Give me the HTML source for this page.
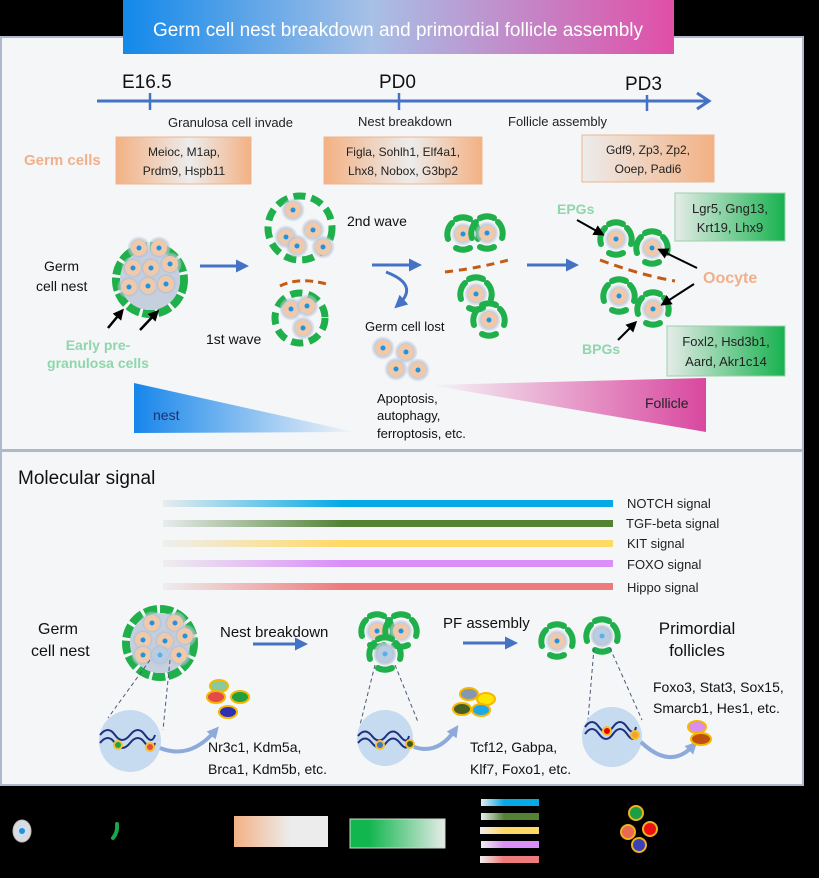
<!DOCTYPE html>
<html><head><meta charset="utf-8"><style>
body{margin:0;background:#000;width:819px;height:873px;overflow:hidden}
text{font-family:"Liberation Sans",sans-serif}
</style></head><body>
<svg width="819" height="873" viewBox="0 0 819 873" xmlns="http://www.w3.org/2000/svg">
<defs>
<radialGradient id="halo"><stop offset="0.6" stop-color="#a9b7cc"/><stop offset="1" stop-color="#c9d2e0" stop-opacity="0.3"/></radialGradient>
<g id="c"><circle r="11.5" fill="url(#halo)"/><circle r="8" fill="#f0c9ab"/><circle r="2.5" fill="#1c94e4"/></g>
<g id="cb"><circle r="11.5" fill="url(#halo)"/><circle r="8" fill="#b9cde2"/><circle r="2.5" fill="#5ab0e8"/></g>
<g id="f"><use href="#c"/><g fill="none" stroke="#20b04b" stroke-width="6" stroke-linecap="round"><path d="M-7,-15 A16,16 0 0 1 7,-15"/><path d="M11,-11 A16,16 0 0 1 15,5"/><path d="M7,14 A16,16 0 0 1 -7,14"/><path d="M-15,5 A16,16 0 0 1 -11,-11"/></g></g>
<linearGradient id="title" x1="0" x2="1"><stop offset="0" stop-color="#1289ea"/><stop offset="0.45" stop-color="#a7c0e6"/><stop offset="1" stop-color="#e04fa8"/></linearGradient>
<linearGradient id="peach" x1="0" x2="1"><stop offset="0" stop-color="#f3b184"/><stop offset="0.55" stop-color="#ececec"/><stop offset="1" stop-color="#f3b184"/></linearGradient>
<linearGradient id="peach2" x1="0" x2="1"><stop offset="0" stop-color="#ececec"/><stop offset="1" stop-color="#f3b184"/></linearGradient>
<linearGradient id="peachL" x1="0" x2="1"><stop offset="0" stop-color="#f3b184"/><stop offset="0.6" stop-color="#ececec"/></linearGradient>
<linearGradient id="green" x1="0" x2="1"><stop offset="0" stop-color="#e6ece8"/><stop offset="1" stop-color="#17b24f"/></linearGradient>
<linearGradient id="greenL" x1="0" x2="1"><stop offset="0.2" stop-color="#12b64f"/><stop offset="1" stop-color="#e6ece8"/></linearGradient>
<linearGradient id="nest" x1="0" x2="1"><stop offset="0" stop-color="#1686ea"/><stop offset="1" stop-color="#f5f6f8"/></linearGradient>
<linearGradient id="foll" x1="0" x2="1"><stop offset="0" stop-color="#f5f6f8"/><stop offset="1" stop-color="#d9489f"/></linearGradient>
<linearGradient id="g1" x1="0" x2="1"><stop offset="0" stop-color="#e8ecee"/><stop offset="0.4" stop-color="#05a9e6"/></linearGradient>
<linearGradient id="g2" x1="0" x2="1"><stop offset="0" stop-color="#e8ecee"/><stop offset="0.4" stop-color="#548235"/></linearGradient>
<linearGradient id="g3" x1="0" x2="1"><stop offset="0" stop-color="#eeeeee"/><stop offset="0.4" stop-color="#ffd966"/></linearGradient>
<linearGradient id="g4" x1="0" x2="1"><stop offset="0" stop-color="#eeeeee"/><stop offset="0.4" stop-color="#d98ef8"/></linearGradient>
<linearGradient id="g5" x1="0" x2="1"><stop offset="0" stop-color="#eeeeee"/><stop offset="0.4" stop-color="#ee7b7b"/></linearGradient>
<marker id="ab" markerWidth="13" markerHeight="13" refX="8" refY="6.5" orient="auto" markerUnits="userSpaceOnUse"><path d="M0,0 L13,6.5 L0,13z" fill="#4472c4"/></marker>
<marker id="ak" markerWidth="11" markerHeight="11" refX="8" refY="5.5" orient="auto" markerUnits="userSpaceOnUse"><path d="M0,0 L11,5.5 L0,11z" fill="#000"/></marker>
<marker id="al" markerWidth="12" markerHeight="12" refX="6" refY="6" orient="auto" markerUnits="userSpaceOnUse"><path d="M0,0 L12,6 L0,12z" fill="#8eaadb"/></marker>
</defs>
<rect width="819" height="873" fill="#000"/>
<rect x="1" y="37" width="802" height="413" fill="#f5f6f8" stroke="#aeb9cc" stroke-width="2"/>
<rect x="1" y="451" width="802" height="334" fill="#f5f6f8" stroke="#aeb9cc" stroke-width="2"/>
<rect x="123" y="0" width="551" height="54" fill="url(#title)"/>
<text x="398" y="36" font-size="19" fill="#fff" text-anchor="middle">Germ cell nest breakdown and primordial follicle assembly</text>
<line x1="97" y1="101" x2="708" y2="101" stroke="#4472c4" stroke-width="3"/>
<path d="M697,93 L709,101 L697,109" fill="none" stroke="#4472c4" stroke-width="3"/>
<g stroke="#4472c4" stroke-width="2.5"><line x1="150" y1="93" x2="150" y2="110"/><line x1="399" y1="93" x2="399" y2="110"/><line x1="647" y1="95" x2="647" y2="111"/></g>
<g font-size="19" fill="#111"><text x="122" y="88">E16.5</text><text x="379" y="88">PD0</text><text x="625" y="90">PD3</text></g>
<g font-size="13" fill="#222"><text x="168" y="127">Granulosa cell invade</text><text x="358" y="126">Nest breakdown</text><text x="508" y="126">Follicle assembly</text></g>
<rect x="116" y="137" width="135" height="47" fill="url(#peach)" stroke="#f0b48c"/>
<rect x="324" y="137" width="158" height="47" fill="url(#peach)" stroke="#f0b48c"/>
<rect x="582" y="135" width="132" height="47" fill="url(#peach2)" stroke="#f0b48c"/>
<g font-size="12" fill="#222" text-anchor="middle">
<text x="184" y="156">Meioc, M1ap,</text><text x="184" y="175">Prdm9, Hspb11</text>
<text x="403" y="156">Figla, Sohlh1, Elf4a1,</text><text x="403" y="175">Lhx8, Nobox, G3bp2</text>
<text x="648" y="154">Gdf9, Zp3, Zp2,</text><text x="648" y="173">Ooep, Padi6</text></g>
<text x="24" y="165" font-size="15" font-weight="bold" fill="#f2b08a">Germ cells</text>
<rect x="675" y="193" width="110" height="48" fill="url(#green)" stroke="#9ad0a8"/>
<rect x="667" y="326" width="118" height="50" fill="url(#green)" stroke="#9ad0a8"/>
<g font-size="13" fill="#222" text-anchor="middle"><text x="730" y="213">Lgr5, Gng13,</text><text x="730" y="232">Krt19, Lhx9</text><text x="726" y="346">Foxl2, Hsd3b1,</text><text x="726" y="366">Aard, Akr1c14</text></g>
<circle cx="150" cy="280" r="34" fill="none" stroke="#20b04b" stroke-width="8" stroke-dasharray="13 3"/>
<circle cx="150" cy="280" r="30" fill="#c5cfde"/>
<use href="#c" x="139" y="248"/><use href="#c" x="159" y="248"/><use href="#c" x="133" y="268"/><use href="#c" x="151" y="268"/><use href="#c" x="170" y="264"/><use href="#c" x="129" y="287"/><use href="#c" x="148" y="286"/><use href="#c" x="166" y="284"/>
<g font-size="14" fill="#111"><text x="44" y="271">Germ</text><text x="36" y="291">cell nest</text></g>
<line x1="108" y1="328" x2="122" y2="311" stroke="#000" stroke-width="2.5" marker-end="url(#ak)"/>
<line x1="140" y1="330" x2="157" y2="312" stroke="#000" stroke-width="2.5" marker-end="url(#ak)"/>
<g font-size="14" font-weight="bold" fill="#8fd6aa" text-anchor="middle"><text x="98" y="350">Early pre-</text><text x="98" y="368">granulosa cells</text></g>
<line x1="200" y1="266" x2="244" y2="266" stroke="#4472c4" stroke-width="3" marker-end="url(#ab)"/>
<g fill="none" stroke="#20b04b" stroke-width="7" stroke-dasharray="12 6"><circle cx="300" cy="228" r="32"/><circle cx="300" cy="318" r="25"/></g>
<use href="#c" x="293" y="210"/><use href="#c" x="286" y="237"/><use href="#c" x="313" y="230"/><use href="#c" x="297" y="246"/><use href="#c" x="323" y="247"/>
<use href="#c" x="291" y="309"/><use href="#c" x="307" y="306"/><use href="#c" x="303" y="328"/>
<path d="M280,286 Q300,276 330,285" fill="none" stroke="#c55a11" stroke-width="3" stroke-dasharray="8 5"/>
<text x="206" y="344" font-size="14" fill="#111">1st wave</text>
<text x="347" y="226" font-size="14" fill="#111">2nd wave</text>
<line x1="372" y1="265" x2="417" y2="265" stroke="#4472c4" stroke-width="3" marker-end="url(#ab)"/>
<path d="M386,272 Q420,285 398,305" fill="none" stroke="#4472c4" stroke-width="3" marker-end="url(#ab)"/>
<text x="365" y="331" font-size="13" fill="#111">Germ cell lost</text>
<use href="#c" x="383" y="348"/><use href="#c" x="406" y="352"/><use href="#c" x="396" y="369"/><use href="#c" x="418" y="370"/>
<g font-size="13" fill="#111"><text x="377" y="403">Apoptosis,</text><text x="377" y="420">autophagy,</text><text x="377" y="438">ferroptosis, etc.</text></g>
<use href="#f" x="463" y="234"/><use href="#f" x="487" y="233"/><use href="#f" x="476" y="294"/><use href="#f" x="489" y="320"/>
<path d="M445,272 Q480,268 512,259" fill="none" stroke="#c55a11" stroke-width="3" stroke-dasharray="8 6"/>
<line x1="527" y1="265" x2="574" y2="265" stroke="#4472c4" stroke-width="3" marker-end="url(#ab)"/>
<use href="#f" x="616" y="239"/><use href="#f" x="652" y="248"/><use href="#f" x="619" y="296"/><use href="#f" x="653" y="309"/>
<path d="M600,260 Q640,275 675,281" fill="none" stroke="#c55a11" stroke-width="3" stroke-dasharray="9 6"/>
<text x="557" y="214" font-size="14" font-weight="bold" fill="#8fd6aa">EPGs</text>
<text x="582" y="354" font-size="14" font-weight="bold" fill="#8fd6aa">BPGs</text>
<text x="703" y="283" font-size="16" font-weight="bold" fill="#f2b08a">Oocyte</text>
<line x1="577" y1="220" x2="602" y2="234" stroke="#000" stroke-width="2" marker-end="url(#ak)"/>
<line x1="697" y1="268" x2="660" y2="250" stroke="#000" stroke-width="2" marker-end="url(#ak)"/>
<line x1="694" y1="284" x2="663" y2="304" stroke="#000" stroke-width="2" marker-end="url(#ak)"/>
<line x1="618" y1="340" x2="635" y2="323" stroke="#000" stroke-width="2" marker-end="url(#ak)"/>
<path d="M134,383 L355,432 L134,433z" fill="url(#nest)"/>
<text x="153" y="420" font-size="14" fill="#1f2f6f">nest</text>
<path d="M430,385 L706,378 L706,432z" fill="url(#foll)"/>
<text x="645" y="408" font-size="14" fill="#222">Follicle</text>
<text x="18" y="484" font-size="19" fill="#111">Molecular signal</text>
<rect x="163" y="500" width="450" height="7" fill="url(#g1)"/>
<rect x="163" y="520" width="450" height="7" fill="url(#g2)"/>
<rect x="163" y="540" width="450" height="7" fill="url(#g3)"/>
<rect x="163" y="560" width="450" height="7" fill="url(#g4)"/>
<rect x="163" y="583" width="450" height="7" fill="url(#g5)"/>
<g font-size="13" fill="#222"><text x="627" y="508">NOTCH signal</text><text x="626" y="528">TGF-beta signal</text><text x="627" y="548">KIT signal</text><text x="627" y="569">FOXO signal</text><text x="627" y="592">Hippo signal</text></g>
<g font-size="16" fill="#111"><text x="38" y="634">Germ</text><text x="31" y="656">cell nest</text></g>
<circle cx="160" cy="643" r="34" fill="none" stroke="#20b04b" stroke-width="8" stroke-dasharray="13 3"/>
<circle cx="160" cy="643" r="30" fill="#c5cfde"/>
<use href="#c" x="152" y="623"/><use href="#c" x="175" y="623"/><use href="#c" x="143" y="640"/><use href="#c" x="165" y="641"/><use href="#c" x="185" y="636"/><use href="#c" x="143" y="655"/><use href="#cb" x="160" y="655"/><use href="#c" x="179" y="655"/>
<text x="220" y="637" font-size="15" fill="#111">Nest breakdown</text>
<line x1="253" y1="644" x2="303" y2="644" stroke="#4472c4" stroke-width="3" marker-end="url(#ab)"/>
<use href="#f" x="377" y="631"/><use href="#f" x="401" y="631"/><use href="#f" x="385" y="654"/>
<use href="#cb" x="385" y="654"/>
<text x="443" y="628" font-size="15" fill="#111">PF assembly</text>
<line x1="463" y1="643" x2="513" y2="643" stroke="#4472c4" stroke-width="3" marker-end="url(#ab)"/>
<use href="#f" x="557" y="641"/><use href="#f" x="602" y="636"/><use href="#cb" x="602" y="636"/>
<g font-size="17" fill="#111" text-anchor="middle"><text x="697" y="634">Primordial</text><text x="697" y="656">follicles</text></g>
<g stroke="#4a5a78" stroke-width="1" stroke-dasharray="4 3" fill="none">
<line x1="150" y1="660" x2="108" y2="718"/><line x1="170" y1="660" x2="163" y2="730"/>
<line x1="375" y1="665" x2="360" y2="725"/><line x1="395" y1="665" x2="418" y2="722"/>
<line x1="594" y1="648" x2="588" y2="720"/><line x1="610" y1="648" x2="642" y2="720"/></g>
<circle cx="130" cy="741" r="31" fill="#c6daf0"/><circle cx="385" cy="738" r="28" fill="#c6daf0"/><circle cx="612" cy="737" r="30" fill="#c6daf0"/>
<g fill="none" stroke="#1f3080" stroke-width="2"><path d="M100,735 q8,-10 15,0 t15,0 t15,0 t10,0"/><path d="M100,743 q8,-10 15,0 t15,0 t15,0 t10,0"/>
<path d="M358,736 q7,-9 14,0 t14,0 t14,0 t9,0"/><path d="M358,743 q7,-9 14,0 t14,0 t14,0 t9,0"/>
<path d="M585,727 q7,-10 14,0 t14,0 t14,0 t9,0"/><path d="M585,734 q7,-10 14,0 t14,0 t14,0 t9,0"/></g>
<circle cx="118" cy="745" r="4" fill="#19a64b" stroke="#f5c030" stroke-width="2"/><circle cx="150" cy="747" r="4" fill="#e94a3e" stroke="#f5c030" stroke-width="2"/>
<circle cx="380" cy="745" r="4" fill="#4472c4" stroke="#f5c030" stroke-width="2"/><circle cx="410" cy="744" r="4" fill="#3a5a20" stroke="#f5c030" stroke-width="2"/>
<circle cx="607" cy="731" r="4" fill="#e00" stroke="#f5c030" stroke-width="2"/><circle cx="635" cy="735" r="4" fill="#f5a030" stroke="#f5c030" stroke-width="2"/>
<g fill="none" stroke="#8eaadb" stroke-width="4"><path d="M160,748 Q190,760 215,731" marker-end="url(#al)"/><path d="M414,747 Q438,755 455,730" marker-end="url(#al)"/><path d="M641,742 Q670,770 693,746" marker-end="url(#al)"/></g>
<g stroke="#f5b800" stroke-width="2">
<ellipse cx="219" cy="686" rx="9" ry="6" fill="#88c9a1"/><ellipse cx="216" cy="697" rx="9" ry="6" fill="#e54a4a"/><ellipse cx="240" cy="697" rx="9" ry="6" fill="#20a040"/><ellipse cx="228" cy="712" rx="9" ry="6" fill="#3030b0"/>
<ellipse cx="469" cy="694" rx="9" ry="6" fill="#8496b0"/><ellipse cx="486" cy="699" rx="9" ry="6" fill="#ffe400"/><ellipse cx="462" cy="709" rx="9" ry="6" fill="#4a6020"/><ellipse cx="481" cy="710" rx="9" ry="6" fill="#1fa8e8"/>
<ellipse cx="697" cy="727" rx="9" ry="6" fill="#d78ef0"/><ellipse cx="701" cy="739" rx="10" ry="6" fill="#c05010"/></g>
<g font-size="14" fill="#111"><text x="208" y="752">Nr3c1, Kdm5a,</text><text x="208" y="774">Brca1, Kdm5b, etc.</text>
<text x="470" y="752">Tcf12, Gabpa,</text><text x="470" y="774">Klf7, Foxo1, etc.</text>
<text x="653" y="692">Foxo3, Stat3, Sox15,</text><text x="653" y="713">Smarcb1, Hes1, etc.</text></g>
<ellipse cx="22" cy="831" rx="9" ry="11" fill="#d6dce6" stroke="#c9b8a8"/><circle cx="22" cy="831" r="3" fill="#1c94e4"/>
<path d="M117,824 Q118,832 113,838" fill="none" stroke="#1aa54c" stroke-width="4" stroke-linecap="round"/>
<rect x="234" y="816" width="94" height="31" fill="url(#peachL)"/>
<rect x="350" y="819" width="95" height="29" fill="url(#greenL)" stroke="#c8dcc8"/>
<rect x="481" y="799" width="58" height="7" fill="url(#g1)"/>
<rect x="481" y="813" width="58" height="7" fill="url(#g2)"/>
<rect x="480" y="827" width="59" height="7" fill="url(#g3)"/>
<rect x="481" y="841" width="58" height="7" fill="url(#g4)"/>
<rect x="480" y="856" width="59" height="7" fill="url(#g5)"/>
<g stroke="#f0b020" stroke-width="2"><circle cx="636" cy="813" r="7" fill="#1aa040"/><circle cx="628" cy="832" r="7" fill="#e86a50"/><circle cx="650" cy="829" r="7" fill="#ee1010"/><circle cx="639" cy="845" r="7" fill="#3a40b8"/></g>
</svg>
</body></html>
